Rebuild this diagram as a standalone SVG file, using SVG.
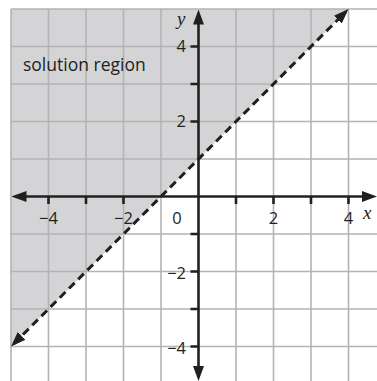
<svg xmlns="http://www.w3.org/2000/svg" width="377" height="381" viewBox="0 0 377 381">
<style>
.grid{stroke:#b3b3b5;stroke-width:1.6;fill:none}
.axis{stroke:#231f20;stroke-width:2.6;fill:none}
.tick{stroke:#231f20;stroke-width:2.6;fill:none}
.bound{stroke:#231f20;stroke-width:3;fill:none;stroke-dasharray:8 5}
.lbl{font-family:"Open Sans","Liberation Sans",sans-serif;font-size:16.5px;fill:#231f20}
.big{font-size:17.5px}
.var{font-family:"Liberation Serif",serif;font-style:italic;font-size:19px;fill:#231f20}
</style>
<defs>
<marker id="ah" markerUnits="userSpaceOnUse" viewBox="0 0 15 11" refX="11" refY="5.5" markerWidth="15" markerHeight="11" orient="auto-start-reverse">
<path d="M0,0 L15,5.5 L0,11 z" fill="#231f20" stroke="none"/>
</marker>
</defs>
<rect width="377" height="381" fill="#ffffff"/>
<g id="solution-region">
<polygon points="11,9 348.5,9 11,346.5" fill="#d4d4d6"/>
</g>
<g id="grid" class="grid">
<path d="M11,9V381 M48.5,9V381 M86,9V381 M123.5,9V381 M161,9V381 M236,9V381 M273.5,9V381 M311,9V381 M348.5,9V381"/>
<path d="M11,9H377 M11,46.5H377 M11,84H377 M11,121.5H377 M11,159H377 M11,234H377 M11,271.5H377 M11,309H377 M11,346.5H377"/>
</g>
<g id="connectors">
<path id="x-axis" class="axis" d="M15.5,196.5H373" marker-start="url(#ah)" marker-end="url(#ah)"/>
<path id="y-axis" class="axis" d="M198.5,13.5V377" marker-start="url(#ah)" marker-end="url(#ah)"/>
<path id="ticks" class="tick" d="M48.5,196.5V204 M86,196.5V204 M123.5,196.5V204 M236,196.5V204 M273.5,196.5V204 M311,196.5V204 M348.5,196.5V204 M198.5,46.5H190.5 M198.5,84H190.5 M198.5,121.5H190.5 M198.5,234H190.5 M198.5,271.5H190.5 M198.5,309H190.5 M198.5,346.5H190.5"/>
<path id="boundary" class="bound" d="M13.83,343.67L345.67,11.83" marker-start="url(#ah)" marker-end="url(#ah)"/>
</g>
<g id="labels">
<text class="lbl big" x="23" y="71">solution region</text>
<text class="lbl" x="48.5" y="224" text-anchor="middle">−4</text>
<text class="lbl" x="123.5" y="224" text-anchor="middle">−2</text>
<text class="lbl" x="177" y="224" text-anchor="middle">0</text>
<text class="lbl" x="273.5" y="224" text-anchor="middle">2</text>
<text class="lbl" x="348.5" y="224" text-anchor="middle">4</text>
<text class="lbl" x="186" y="52" text-anchor="end">4</text>
<text class="lbl" x="186" y="127" text-anchor="end">2</text>
<text class="lbl" x="186" y="279" text-anchor="end">−2</text>
<text class="lbl" x="186" y="354" text-anchor="end">−4</text>
<text class="var" x="363" y="219">x</text>
<text class="var" x="177" y="25">y</text>
</g>
</svg>
